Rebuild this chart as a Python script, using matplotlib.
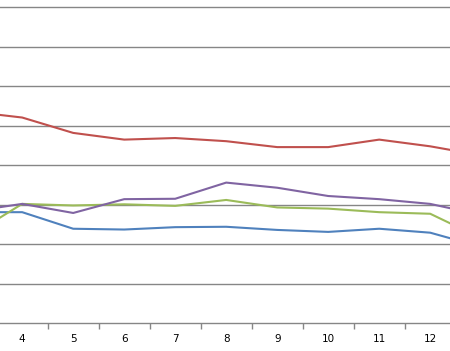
import matplotlib
matplotlib.use("Agg")
import matplotlib.pyplot as plt
from matplotlib.ticker import FixedLocator, NullFormatter

# categories (3 and 13 are only partly visible at the edges)
categories = [3, 4, 5, 6, 7, 8, 9, 10, 11, 12, 13]
red = [53.6, 52.1, 48.2, 46.5, 46.9, 46.1, 44.6, 44.6, 46.5, 44.8, 42.5]
purple = [28.3, 30.2, 27.9, 31.4, 31.5, 35.6, 34.3, 32.2, 31.4, 30.2, 27.4]
green = [22.2, 30.2, 29.8, 30.1, 29.7, 31.2, 29.3, 29.0, 28.1, 27.7, 21.5]
blue = [28.1, 28.1, 23.9, 23.7, 24.3, 24.4, 23.6, 23.1, 23.9, 22.9, 19.3]
tick_labels = ["4", "5", "6", "7", "8", "9", "10", "11", "12"]

fig = plt.figure(figsize=(4.5, 3.51), dpi=100)
ax = fig.add_axes([0, 28 / 351, 1, 323 / 351])

for vals, col in [(blue, "#4F81BD"), (red, "#C0504D"),
                  (green, "#9BBB59"), (purple, "#8064A2")]:
    ax.plot(categories, vals, color=col, lw=1.5, solid_joinstyle="round")

ax.set_xlim(3.565, 12.388)
ax.set_ylim(0, 81.9)

ax.set_yticks(range(10, 81, 10))
ax.yaxis.grid(True, color="#868686", lw=1)
ax.set_axisbelow(True)
ax.tick_params(axis="y", left=False, labelleft=False)

ax.xaxis.set_major_locator(FixedLocator([c + 0.5 for c in range(3, 13)]))
ax.xaxis.set_major_formatter(NullFormatter())
ax.xaxis.set_minor_locator(FixedLocator(range(4, 13)))
ax.set_xticklabels(tick_labels, minor=True)
ax.tick_params(axis="x", which="major", length=4, color="#868686", width=1)
ax.tick_params(axis="x", which="minor", length=0, pad=8, labelsize=7.5,
               labelcolor="#000000")

for side in ["top", "left", "right"]:
    ax.spines[side].set_visible(False)
ax.spines["bottom"].set_color("#868686")
ax.spines["bottom"].set_linewidth(1)

fig.savefig("out.png", dpi=100)
